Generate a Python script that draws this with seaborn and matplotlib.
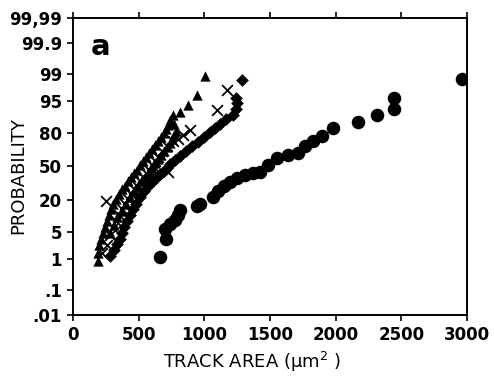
import numpy as np
import pandas as pd
import matplotlib
matplotlib.use("Agg")
import matplotlib.pyplot as plt
import seaborn as sns
from statistics import NormalDist
from matplotlib.ticker import FixedLocator, NullLocator

# ---- data: track area (um^2) and cumulative probability (%) ----
tri_area = [190, 190, 198, 213, 228, 244, 259, 274, 289, 305, 327, 350, 373, 396, 419, 442,
            465, 487, 510, 533, 556, 579, 602, 625, 647, 670, 693, 708, 724, 739, 762, 815,
            876, 944, 1005,
            282, 312, 335, 373, 403, 434, 465, 495, 525, 556, 579, 602, 625, 647, 670, 693,
            716, 739, 754, 770, 785, 770]
tri_prob = [0.88, 1.48, 2.41, 3.4, 4.7, 6.4, 8.5, 11.0, 14.1, 17.1, 20.5, 24.2, 28.3, 31.7, 35.4, 39.2,
            43.1, 47.0, 51.0, 55.1, 59.1, 63.0, 66.9, 70.5, 73.9, 77.2, 80.1, 82.9, 85.3, 87.6, 90.0, 91.3,
            93.8, 96.4, 98.8,
            4.7, 7.0, 10.1, 13.5, 17.7, 21.9, 26.6, 30.9, 35.4, 40.1, 44.0, 48.0, 53.1, 57.1, 61.1, 65.0,
            68.7, 72.2, 75.6, 78.7, 81.5, 85.9]

crs_area = [221, 259, 282, 305, 327, 350, 373, 396, 419, 442, 465, 487, 510, 533, 556, 579,
            602, 625, 647, 678, 716, 762, 800, 838, 891, 1097, 1173, 251, 724]
crs_prob = [1.48, 2.41, 4.2, 6.1, 8.5, 11.0, 14.1, 17.1, 20.5, 24.2, 28.3, 31.7, 35.4, 39.2, 43.1, 47.0,
            51.0, 55.1, 59.1, 65.0, 69.6, 73.9, 75.6, 78.7, 82.2, 92.1, 97.3, 19.1, 45.0]

dia_area = [282, 312, 335, 358, 373, 388, 411, 434, 457, 480, 510, 541, 571, 602, 632, 663,
            701, 739, 777, 815, 861, 906, 952, 998, 1043, 1081, 1120, 1165, 1219, 1241, 1249,
            1241, 1287]
dia_prob = [1.22, 1.79, 2.56, 3.4, 4.7, 6.4, 8.5, 11.0, 14.1, 17.7, 21.9, 26.6, 30.9, 34.5, 38.2, 42.1,
            47.0, 52.0, 56.1, 60.1, 65.0, 69.6, 73.1, 77.2, 80.8, 83.5, 85.9, 88.1, 90.0, 92.5, 94.4,
            95.7, 98.5]

cir_area = [665, 708, 701, 739, 777, 800, 815, 944, 967, 1066, 1104, 1150, 1196, 1249, 1310, 1371,
            1424, 1485, 1554, 1637, 1714, 1767, 1828, 1896, 1980, 2171, 2315, 2445, 2445, 2963]
cir_prob = [1.15, 3.4, 5.8, 7.35, 8.9, 11.0, 13.6, 15.9, 17.7, 21.9, 26.6, 30.9, 34.5, 38.2, 41.1, 43.1,
            45.0, 51.0, 58.1, 61.1, 63.0, 69.6, 73.9, 77.9, 83.5, 87.0, 90.0, 92.5, 95.7, 98.6]

prob_ticks = [0.01, 0.1, 1, 5, 20, 50, 80, 95, 99, 99.9, 99.99]
prob_labels = ['.01', '.1', '1', '5', '20', '50', '80', '95', '99', '99.9', '99,99']
area_ticks = [0, 500, 1000, 1500, 2000, 2500, 3000]

# ---- normal probability scale ----
_nd = NormalDist()
_fwd_v = np.vectorize(lambda v: _nd.inv_cdf(min(max(v, 1e-7), 100 - 1e-7) / 100.0), otypes=[float])
_inv_v = np.vectorize(lambda v: _nd.cdf(v) * 100.0, otypes=[float])

def _fwd(p):
    return _fwd_v(np.asarray(p, dtype=float))

def _inv(z):
    return _inv_v(np.asarray(z, dtype=float))

sns.set_style("ticks")
plt.rcParams['font.family'] = ['DejaVu Sans']
plt.rcParams['text.color'] = 'black'
plt.rcParams['axes.labelcolor'] = 'black'

fig = plt.figure(figsize=(4.94, 3.79), dpi=100)
ax = fig.add_axes([0.1478, 0.1689, 0.7976, 0.7836])
ax.set_yscale('function', functions=(_fwd, _inv))

tri = pd.DataFrame({'area': tri_area, 'prob': tri_prob})
crs = pd.DataFrame({'area': crs_area, 'prob': crs_prob})
dia = pd.DataFrame({'area': dia_area, 'prob': dia_prob})
cir = pd.DataFrame({'area': cir_area, 'prob': cir_prob})

sns.scatterplot(data=cir, x='area', y='prob', ax=ax, marker='o', s=95, color='black',
                edgecolor='black', linewidth=0, legend=False)
sns.scatterplot(data=dia, x='area', y='prob', ax=ax, marker='D', s=42, color='black',
                edgecolor='black', linewidth=0, legend=False)
sns.scatterplot(data=tri, x='area', y='prob', ax=ax, marker='^', s=55, color='black',
                edgecolor='black', linewidth=0, legend=False)
sns.scatterplot(data=crs, x='area', y='prob', ax=ax, marker='x', s=60, color='black',
                linewidth=1.3, legend=False)

ax.set_xlim(0, 3000)
ax.set_ylim(0.01, 99.99)
ax.yaxis.set_major_locator(FixedLocator(prob_ticks))
ax.set_yticklabels(prob_labels)
ax.yaxis.set_minor_locator(NullLocator())
ax.set_xticks(area_ticks)
ax.set_xticklabels([str(v) for v in area_ticks])

for sp in ax.spines.values():
    sp.set_visible(True)
    sp.set_color('black')
    sp.set_linewidth(1.4)

ax.tick_params(axis='both', direction='out', length=4, width=1.2, colors='black',
               labelcolor='black', labelsize=12, pad=4)
ax.tick_params(axis='x', top=True, labeltop=False)
for lab in ax.get_xticklabels() + ax.get_yticklabels():
    lab.set_fontweight('bold')
    lab.set_color('black')

ax.set_xlabel('TRACK AREA (\u00b5m$^{2}$ )', fontsize=13, color='black')
ax.xaxis.set_label_coords(0.454, -0.158)
ax.xaxis.label.set_va('center')
ax.set_ylabel('PROBABILITY', fontsize=13, color='black')
ax.yaxis.set_label_coords(-0.14, 0.468)
ax.yaxis.label.set_va('center')

ax.text(0.045, 0.95, 'a', transform=ax.transAxes, fontsize=21, fontweight='bold',
        va='top', ha='left', color='black')

fig.savefig('out.png', dpi=100)
